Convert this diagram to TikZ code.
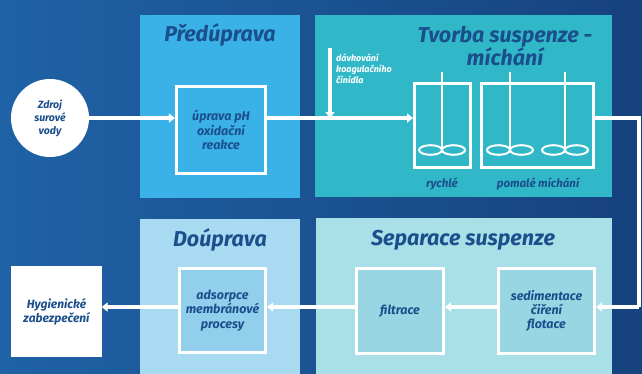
\documentclass[tikz,border=0pt]{standalone}
\usepackage{fontspec}
\setmainfont{Fira Sans}
\usetikzlibrary{arrows.meta,calc}
\definecolor{bgL}{HTML}{1F62A6}
\definecolor{bgR}{HTML}{16427E}
\definecolor{preC}{HTML}{3AB2E8}
\definecolor{tvoC}{HTML}{31B8C8}
\definecolor{douC}{HTML}{A8DBF2}
\definecolor{sepC}{HTML}{A9DFE7}
\definecolor{inkC}{HTML}{1B4F8C}
\definecolor{douIn}{HTML}{92CFEC}
\definecolor{sepIn}{HTML}{97D6E2}
\tikzset{
  panel/.style={draw=none,inner sep=0pt,anchor=center},
  ibox/.style={draw=white,line width=3.2pt,inner sep=0pt,align=center,text=inkC,
     font=\fontsize{12.5}{14.3}\selectfont\bfseries\itshape},
  title/.style={text=inkC,font=\fontsize{21.5}{23}\selectfont\bfseries\itshape,align=center,inner sep=0pt},
  flow/.style={draw=white,line width=3.2pt,-{Triangle[width=9pt,length=6pt]}},
  plain/.style={draw=white,line width=3.2pt},
  tank/.style={draw=white,line width=3pt,inner sep=0pt},
  shaft/.style={draw=white,line width=2pt},
  lbl/.style={text=inkC,font=\fontsize{11.5}{13}\selectfont\bfseries\itshape,inner sep=0pt}
}
\begin{document}
\begin{tikzpicture}[x=1pt,y=-1pt]
\useasboundingbox (0,0) rectangle (642,373);
\clip (0,0) rectangle (642,373);
\shade[left color=bgL,right color=bgR] (0,0) rectangle (642,373);
% panels
\node[panel,fill=preC,minimum width=160pt,minimum height=183pt] (pre) at (220,106.5) {};
\node[panel,fill=tvoC,minimum width=297pt,minimum height=182pt] (tvo) at (463.5,106) {};
\node[panel,fill=douC,minimum width=160pt,minimum height=156pt] (dou) at (220,297) {};
\node[panel,fill=sepC,minimum width=296pt,minimum height=157pt] (sep) at (464,296.5) {};
% titles
\node[title] (tpre) at (220,35) {Předúprava};
\node[title] (ttvo) at (505,46) {Tvorba suspenze -\\míchání};
\node[title] (tdou) at (220,240) {Doúprava};
\node[title] (tsep) at (463,240) {Separace suspenze};
% source
\node[circle,fill=white,minimum size=78pt,inner sep=0pt,align=center,text=inkC,
  font=\fontsize{10.5}{13}\selectfont\bfseries\itshape] (src) at (50,118) {Zdroj\\surové\\vody};
% inner boxes
\node[ibox,minimum width=89pt,minimum height=87pt] (ph) at (221,130) {úprava pH\\oxidační\\reakce};
\node[ibox,fill=douIn,minimum width=86pt,minimum height=84pt] (ads) at (222.5,310.5) {adsorpce\\membránové\\procesy};
\node[ibox,fill=sepIn,minimum width=87pt,minimum height=85pt] (fil) at (400,311) {filtrace};
\node[ibox,fill=sepIn,minimum width=96pt,minimum height=85pt] (sed) at (546.5,311) {sedimentace\\čiření\\flotace};
\node[ibox,fill=white,draw=white,minimum width=87pt,minimum height=87pt,
  font=\fontsize{12}{14}\selectfont\bfseries\itshape] (hyg) at (56.5,311.5) {Hygienické\\zabezpečení};
% tanks
\node[tank,minimum width=56pt,minimum height=84pt] (tankR) at (442.5,125.5) {};
\node[tank,minimum width=112pt,minimum height=84pt] (tankP) at (537.5,125.5) {};
% shafts and impellers
\foreach \sx/\nm in {442/s1,510/s2,565/s3}{
  \coordinate (\nm top) at (\sx,72);
  \coordinate (\nm bot) at (\sx,150);
  \draw[shaft] (\nm top) -- (\nm bot);
  \draw[shaft] ($(\nm bot)+(-11.5,0)$) ellipse [x radius=11.5pt,y radius=4.8pt];
  \draw[shaft] ($(\nm bot)+(11.5,0)$) ellipse [x radius=11.5pt,y radius=4.8pt];
}
\node[lbl] (lr) at (442,184) {rychlé};
\node[lbl] (lp) at (538,184) {pomalé míchání};
% dosing
\coordinate (dose) at (330,48);
\draw[flow] (dose) -- (dose |- src.east);
\node[anchor=north west,inner sep=0pt,align=left,text=white,
  font=\fontsize{9}{11}\selectfont\bfseries\itshape] (dtxt) at (336,54) {dávkování\\koagulačního\\činidla};
% flows
\draw[flow] (src.east) -- (src.east -| ph.west);
\draw[flow] (src.east -| ph.east) -- (src.east -| tankR.west);
\coordinate (rt) at (639,118);
\coordinate (rb) at (639,307);
\draw[plain] (src.east -| tankP.east) -- (rt) -- (rb);
\draw[flow] (rb) -- (rb -| sed.east);
\draw[flow] (rb -| sed.west) -- (rb -| fil.east);
\draw[flow] (rb -| fil.west) -- (rb -| ads.east);
\draw[flow] (rb -| ads.west) -- (rb -| hyg.east);
\end{tikzpicture}
\end{document}
